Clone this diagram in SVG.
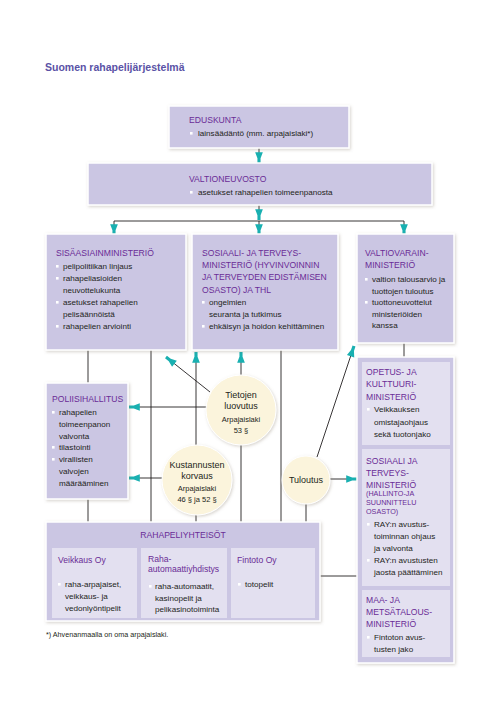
<svg xmlns="http://www.w3.org/2000/svg" width="499" height="709" viewBox="0 0 499 709">
<defs>
<filter id="sh" x="-10%" y="-10%" width="125%" height="125%">
<feDropShadow dx="1" dy="1.2" stdDeviation="1.6" flood-color="#8a8070" flood-opacity="0.35"/>
</filter>
<marker id="ar" markerUnits="userSpaceOnUse" markerWidth="12" markerHeight="10" refX="0" refY="0" viewBox="-9 -4 10 8" orient="auto" overflow="visible">
<path d="M-9,-3.2 L-4,-1.3 L0,-1.3 L0,1.3 L-4,1.3 L-9,3.2 Z" fill="#19b0b1"/>
</marker>
<style>
.box{fill:#cbc6e3;stroke:#ffffff;stroke-width:1.5;filter:url(#sh)}
.inner{fill:#e3e0f0}
.circ{fill:#fbf4dc;stroke:#ffffff;stroke-width:1;filter:url(#sh)}
.t{font-family:"Liberation Sans",Arial,sans-serif;font-size:8.1px;fill:#231f20}
.h{font-family:"Liberation Sans",Arial,sans-serif;font-size:8.6px;fill:#6a2c96}
.hs{font-family:"Liberation Sans",Arial,sans-serif;font-size:7.2px;fill:#6a2c96}
.c{font-family:"Liberation Sans",Arial,sans-serif;font-size:9px;fill:#231f20;text-anchor:middle}
.cs{font-family:"Liberation Sans",Arial,sans-serif;font-size:7.5px;fill:#231f20;text-anchor:middle}
.b{fill:#ffffff}
.ln{stroke:#231f20;stroke-width:0.9;fill:none}
.la{stroke:#231f20;stroke-width:0.9;fill:none;marker-end:url(#ar)}
</style>
</defs>
<rect width="499" height="709" fill="#ffffff"/>
<text x="45" y="71" font-family="Liberation Sans,Arial,sans-serif" font-size="10.5" font-weight="bold" fill="#5a52a6">Suomen rahapelijärjestelmä</text>

<g id="connectors">
<line class="la" x1="259" y1="148" x2="259" y2="163"/>
<line class="la" x1="259" y1="205" x2="259" y2="220"/>
<polyline class="ln" points="114,221 404,221"/>
<line class="la" x1="114" y1="221" x2="114" y2="235"/>
<line class="la" x1="259" y1="221" x2="259" y2="235"/>
<line class="la" x1="404" y1="221" x2="404" y2="235"/>
<line class="ln" x1="88" y1="350" x2="88" y2="522"/>
<line class="ln" x1="151" y1="350" x2="151" y2="522"/>
<line class="ln" x1="281" y1="350" x2="281" y2="522"/>
<line class="ln" x1="404" y1="343" x2="404" y2="357"/>
<line class="la" x1="196" y1="445" x2="196" y2="352"/>
<line class="ln" x1="196" y1="515" x2="196" y2="522"/>
<line class="la" x1="241" y1="375" x2="241" y2="352"/>
<line class="ln" x1="241" y1="445" x2="241" y2="522"/>
<line class="la" x1="210" y1="392" x2="166" y2="357"/>
<line class="la" x1="207" y1="407" x2="129" y2="407"/>
<line class="la" x1="162" y1="478" x2="129" y2="478"/>
<line class="la" x1="317" y1="457" x2="354" y2="346"/>
<line class="la" x1="330" y1="479" x2="357" y2="479"/>
<line class="ln" x1="306" y1="504" x2="306" y2="522"/>
<line class="ln" x1="320" y1="576" x2="357" y2="576"/>
</g>

<g id="eduskunta">
<rect class="box" x="169" y="106" width="180" height="42"/>
<text class="h" x="189" y="123">EDUSKUNTA</text>
<rect class="b" x="190" y="132" width="2.6" height="2.6"/>
<text class="t" x="198" y="136">lainsäädäntö (mm. arpajaislaki*)</text>
</g>

<g id="valtioneuvosto">
<rect class="box" x="88" y="163" width="344" height="42"/>
<text class="h" x="189" y="182">VALTIONEUVOSTO</text>
<rect class="b" x="190" y="191" width="2.6" height="2.6"/>
<text class="t" x="198" y="195">asetukset rahapelien toimeenpanosta</text>
</g>

<g id="sisaasiainministerio">
<rect class="box" x="46" y="234" width="140" height="116"/>
<text class="h" x="56" y="256">SISÄASIAINMINISTERIÖ</text>
<rect class="b" x="56" y="265" width="2.6" height="2.6"/>
<text class="t" x="63" y="269">pelipolitiikan linjaus</text>
<rect class="b" x="56" y="277" width="2.6" height="2.6"/>
<text class="t" x="63" y="281">rahapeliasioiden</text>
<text class="t" x="63" y="293">neuvottelukunta</text>
<rect class="b" x="56" y="301" width="2.6" height="2.6"/>
<text class="t" x="63" y="305">asetukset rahapelien</text>
<text class="t" x="63" y="317">pelisäännöistä</text>
<rect class="b" x="56" y="325" width="2.6" height="2.6"/>
<text class="t" x="63" y="329">rahapelien arviointi</text>
</g>

<g id="stm">
<rect class="box" x="192" y="234" width="146" height="116"/>
<text class="h" x="202" y="256">SOSIAALI- JA TERVEYS-</text>
<text class="h" x="202" y="268">MINISTERIÖ (HYVINVOINNIN</text>
<text class="h" x="202" y="280">JA TERVEYDEN EDISTÄMISEN</text>
<text class="h" x="202" y="293">OSASTO) JA THL</text>
<rect class="b" x="202" y="301" width="2.6" height="2.6"/>
<text class="t" x="209" y="305">ongelmien</text>
<text class="t" x="209" y="317">seuranta ja tutkimus</text>
<rect class="b" x="202" y="325" width="2.6" height="2.6"/>
<text class="t" x="209" y="329">ehkäisyn ja hoidon kehittäminen</text>
</g>

<g id="valtiovarainministerio">
<rect class="box" x="357" y="234" width="97" height="109"/>
<text class="h" x="365" y="256">VALTIOVARAIN-</text>
<text class="h" x="365" y="268">MINISTERIÖ</text>
<rect class="b" x="365" y="278" width="2.6" height="2.6"/>
<text class="t" x="372" y="282">valtion talousarvio ja</text>
<text class="t" x="372" y="293.5">tuottojen tuloutus</text>
<rect class="b" x="365" y="301" width="2.6" height="2.6"/>
<text class="t" x="372" y="305">tuottoneuvottelut</text>
<text class="t" x="372" y="316.5">ministeriöiden</text>
<text class="t" x="372" y="328">kanssa</text>
</g>

<g id="poliisihallitus">
<rect class="box" x="46" y="383" width="82" height="116"/>
<text class="h" x="52" y="402">POLIISIHALLITUS</text>
<rect class="b" x="52" y="411" width="2.6" height="2.6"/>
<text class="t" x="59" y="415">rahapelien</text>
<text class="t" x="59" y="427">toimeenpanon</text>
<text class="t" x="59" y="438.5">valvonta</text>
<rect class="b" x="52" y="446" width="2.6" height="2.6"/>
<text class="t" x="59" y="450">tilastointi</text>
<rect class="b" x="52" y="458" width="2.6" height="2.6"/>
<text class="t" x="59" y="462">virallisten</text>
<text class="t" x="59" y="474">valvojen</text>
<text class="t" x="59" y="486">määrääminen</text>
</g>

<g id="tietojen-luovutus">
<circle class="circ" cx="241" cy="410" r="35"/>
<text class="c" x="241" y="398">Tietojen</text>
<text class="c" x="241" y="408.5">luovutus</text>
<text class="cs" x="241" y="421.5">Arpajaislaki</text>
<text class="cs" x="241" y="432.5">53 §</text>
</g>

<g id="kustannusten-korvaus">
<circle class="circ" cx="197" cy="480" r="35"/>
<text class="c" x="197" y="468">Kustannusten</text>
<text class="c" x="197" y="478.5">korvaus</text>
<text class="cs" x="197" y="490.5">Arpajaislaki</text>
<text class="cs" x="197" y="501.5">46 § ja 52 §</text>
</g>

<g id="tuloutus">
<circle class="circ" cx="306" cy="480" r="24"/>
<text class="c" x="306" y="482.5">Tuloutus</text>
</g>

<g id="rahapeliyhteisot">
<rect class="box" x="46" y="522" width="274" height="99"/>
<text class="h" x="183" y="538" text-anchor="middle">RAHAPELIYHTEISÖT</text>
<rect class="inner" x="52" y="548" width="85" height="70"/>
<rect class="inner" x="141" y="548" width="86" height="70"/>
<rect class="inner" x="231" y="548" width="84" height="70"/>
<text class="h" x="58" y="563">Veikkaus Oy</text>
<rect class="b" x="58" y="583" width="2.6" height="2.6"/>
<text class="t" x="65" y="587">raha-arpajaiset,</text>
<text class="t" x="65" y="599">veikkaus- ja</text>
<text class="t" x="65" y="611">vedonlyöntipelit</text>
<text class="h" x="148" y="562">Raha-</text>
<text class="h" x="148" y="572">automaattiyhdistys</text>
<rect class="b" x="149" y="585" width="2.6" height="2.6"/>
<text class="t" x="155" y="589">raha-automaatit,</text>
<text class="t" x="155" y="601">kasinopelit ja</text>
<text class="t" x="155" y="612">pelikasinotoiminta</text>
<text class="h" x="237" y="563">Fintoto Oy</text>
<rect class="b" x="238" y="583" width="2.6" height="2.6"/>
<text class="t" x="245" y="587">totopelit</text>
</g>

<g id="oikea-sarake">
<rect class="box" x="357" y="357" width="97" height="306"/>
</g>

<g id="okm">
<rect class="inner" x="362" y="362" width="88" height="83"/>
<text class="h" x="366" y="375">OPETUS- JA</text>
<text class="h" x="366" y="387">KULTTUURI-</text>
<text class="h" x="366" y="399.5">MINISTERIÖ</text>
<rect class="b" x="367" y="408" width="2.6" height="2.6"/>
<text class="t" x="374" y="412">Veikkauksen</text>
<text class="t" x="374" y="424.5">omistajaohjaus</text>
<text class="t" x="374" y="437">sekä tuotonjako</text>
</g>

<g id="stm-hallinto">
<rect class="inner" x="362" y="449" width="88" height="137"/>
<text class="h" x="366" y="464">SOSIAALI JA</text>
<text class="h" x="366" y="476">TERVEYS-</text>
<text class="h" x="366" y="487.5">MINISTERIÖ</text>
<text class="hs" x="366" y="496">(HALLINTO-JA</text>
<text class="hs" x="366" y="505">SUUNNITTELU</text>
<text class="hs" x="366" y="514">OSASTO)</text>
<rect class="b" x="367" y="523" width="2.6" height="2.6"/>
<text class="t" x="374" y="527">RAY:n avustus-</text>
<text class="t" x="374" y="539">toiminnan ohjaus</text>
<text class="t" x="374" y="551">ja valvonta</text>
<rect class="b" x="367" y="559" width="2.6" height="2.6"/>
<text class="t" x="374" y="563">RAY:n avustusten</text>
<text class="t" x="374" y="575">jaosta päättäminen</text>
</g>

<g id="mmm">
<rect class="inner" x="362" y="590" width="88" height="67"/>
<text class="h" x="366" y="603">MAA- JA</text>
<text class="h" x="366" y="615">METSÄTALOUS-</text>
<text class="h" x="366" y="627">MINISTERIÖ</text>
<rect class="b" x="367" y="636" width="2.6" height="2.6"/>
<text class="t" x="374" y="640">Fintoton avus-</text>
<text class="t" x="374" y="652">tusten jako</text>
</g>

<text x="46" y="636.5" font-family="Liberation Sans,Arial,sans-serif" font-size="7.2" fill="#231f20">*) Ahvenanmaalla on oma arpajaislaki.</text>
</svg>
